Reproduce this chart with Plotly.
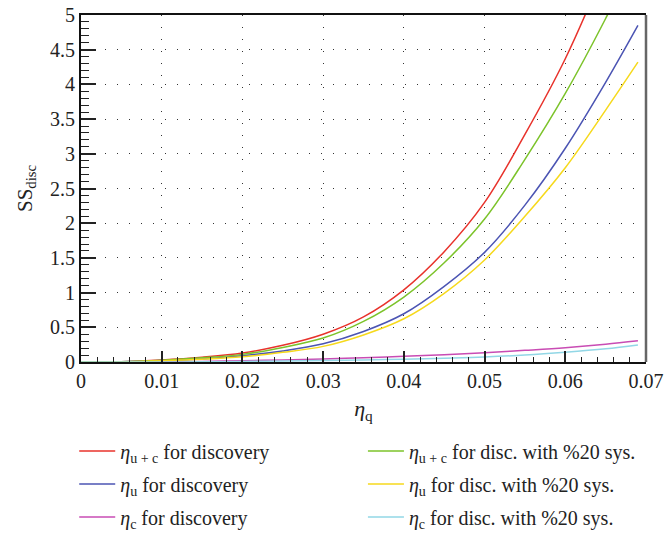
import plotly.graph_objects as go

# Quark coupling values (x axis)
eta_q = [0, 0.005, 0.01, 0.015, 0.02, 0.025, 0.03, 0.035, 0.04, 0.045,
         0.05, 0.055, 0.06, 0.065, 0.069]

# Discovery significance curves
ss_uc = [0, 0.005, 0.03, 0.07, 0.13, 0.24, 0.40, 0.65, 1.04, 1.59,
         2.30, 3.28, 4.37, 5.70, 6.90]
ss_u = [0, 0.003, 0.02, 0.045, 0.09, 0.16, 0.263, 0.44, 0.695, 1.09,
        1.58, 2.26, 3.08, 4.03, 4.85]
ss_c = [0, 0.001, 0.003, 0.008, 0.018, 0.03, 0.045, 0.062, 0.082, 0.106,
        0.135, 0.168, 0.205, 0.255, 0.305]

# Same curves with 20% systematics
ss_uc_sys = [0, 0.004, 0.025, 0.06, 0.11, 0.21, 0.345, 0.585, 0.936, 1.43,
             2.06, 2.92, 3.87, 4.95, 5.90]
ss_u_sys = [0, 0.003, 0.018, 0.04, 0.075, 0.14, 0.225, 0.39, 0.623, 0.99,
            1.47, 2.10, 2.80, 3.63, 4.32]
ss_c_sys = [0, 0.0005, 0.001, 0.003, 0.008, 0.013, 0.02, 0.029, 0.04, 0.055,
            0.073, 0.10, 0.14, 0.19, 0.245]

x_ticks = [0, 0.01, 0.02, 0.03, 0.04, 0.05, 0.06, 0.07]
x_labels = ["0", "0.01", "0.02", "0.03", "0.04", "0.05", "0.06", "0.07"]
y_ticks = [0, 0.5, 1, 1.5, 2, 2.5, 3, 3.5, 4, 4.5, 5]
y_labels = ["0", "0.5", "1", "1.5", "2", "2.5", "3", "3.5", "4", "4.5", "5"]

series = [
    ("<i>η</i><sub>u + c</sub> for discovery", ss_uc, "#e8322b", "legend", "g1"),
    ("<i>η</i><sub>u</sub> for discovery", ss_u, "#4b54b3", "legend", "g2"),
    ("<i>η</i><sub>c</sub> for discovery", ss_c, "#c94cb4", "legend", "g3"),
    ("<i>η</i><sub>u + c</sub> for disc. with %20 sys.", ss_uc_sys, "#7cc32a", "legend2", "g4"),
    ("<i>η</i><sub>u</sub> for disc. with %20 sys.", ss_u_sys, "#f6d91c", "legend2", "g5"),
    ("<i>η</i><sub>c</sub> for disc. with %20 sys.", ss_c_sys, "#92d7e6", "legend2", "g6"),
]

FONT = "Liberation Serif, serif"

fig = go.Figure()
for name, ys, color, leg, grp in series:
    fig.add_trace(go.Scatter(
        x=eta_q, y=ys, mode="lines", name=name,
        line=dict(color=color, width=1.5, shape="spline", smoothing=1.0),
        legend=leg, legendgroup=grp,
    ))

fig.update_layout(
    width=664, height=537,
    margin=dict(l=81, r=18, t=15, b=175, autoexpand=False),
    paper_bgcolor="white", plot_bgcolor="white",
    font=dict(family=FONT, size=20, color="#222"),
    showlegend=True,
    legend=dict(x=-0.012, y=-0.2, xanchor="left", yanchor="top",
                font=dict(family=FONT, size=20, color="#222"),
                tracegroupgap=4, itemwidth=36, bgcolor="rgba(0,0,0,0)"),
    legend2=dict(x=0.499, y=-0.2, xanchor="left", yanchor="top",
                 font=dict(family=FONT, size=20, color="#222"),
                 tracegroupgap=4, itemwidth=36, bgcolor="rgba(0,0,0,0)"),
)

fig.update_xaxes(
    range=[0, 0.07], tickvals=x_ticks, ticktext=x_labels, automargin=False,
    ticks="inside", ticklen=11, tickwidth=1.5, tickcolor="#222",
    minor=dict(dtick=0.002, ticks="inside", ticklen=5, tickwidth=1.2,
               tickcolor="#222", showgrid=False),
    showline=True, linecolor="#111", linewidth=2, mirror=True,
    showgrid=True, gridcolor="#333", gridwidth=1.3, griddash="1px,11px",
    zeroline=False,
    title=dict(text="<i>η</i><sub>q</sub>", font=dict(family=FONT, size=22), standoff=10),
    tickfont=dict(family=FONT, size=20),
)
fig.update_yaxes(
    range=[0, 5], tickvals=y_ticks, ticktext=y_labels, automargin=False,
    ticks="inside", ticklen=15, tickwidth=1.5, tickcolor="#222",
    minor=dict(dtick=0.1, ticks="inside", ticklen=8, tickwidth=1.2,
               tickcolor="#222", showgrid=False),
    showline=True, linecolor="#111", linewidth=2,
    showgrid=True, gridcolor="#333", gridwidth=1.3, griddash="1px,11px",
    zeroline=False,
    title=dict(text="SS<sub>disc</sub>", font=dict(family=FONT, size=21), standoff=12),
    tickfont=dict(family=FONT, size=20),
)

# right-hand frame edge
fig.add_shape(type="line", xref="paper", yref="paper", x0=1, x1=1, y0=0, y1=1,
              line=dict(color="#666", width=2.5))

fig.write_html("out.html")
